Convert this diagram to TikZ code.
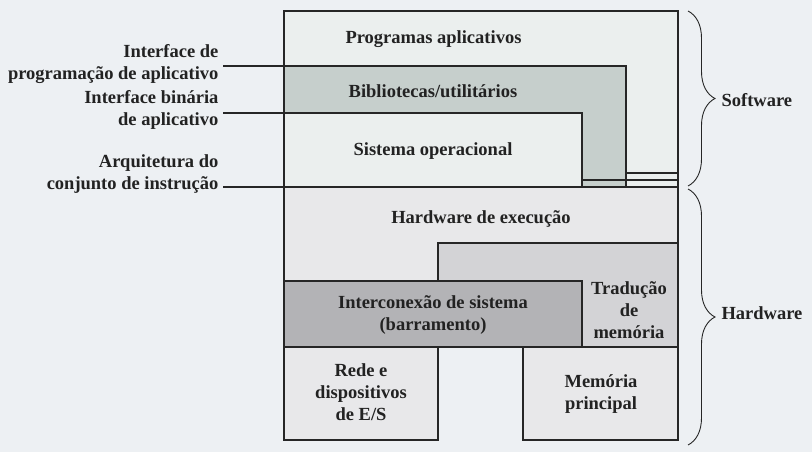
\documentclass[tikz,border=0pt]{standalone}
\usepackage{fontspec}
\setmainfont{Liberation Serif}
\usetikzlibrary{decorations.pathreplacing}
\definecolor{bgc}{HTML}{EDF0F3}
\definecolor{appc}{HTML}{EBEFEE}
\definecolor{libc}{HTML}{C6CFCC}
\definecolor{hwc}{HTML}{E8E8EA}
\definecolor{trc}{HTML}{D3D3D6}
\definecolor{icc}{HTML}{B3B3B6}
\definecolor{txt}{HTML}{222222}
\definecolor{edge}{HTML}{262626}
\begin{document}
\begin{tikzpicture}[x=1pt,y=-1pt,line width=1.2pt,
  lbl/.style={font=\fontsize{18.5}{22}\selectfont\bfseries,text=txt,align=center,inner sep=0pt},
  box/.style={draw=edge},
  iface/.style={draw=edge},
  bracestyle/.style={draw=edge,line width=0.9pt,decorate,decoration={brace,amplitude=27pt}}]
\fill[bgc] (0,0) rectangle (812,452);
\useasboundingbox (0,0) rectangle (812,452);
% software layers
\draw[box,fill=appc] (284,11) rectangle (678,187);
\fill[libc] (284,66) -- (626,66) -- (626,187) -- (582,187) -- (582,113) -- (284,113) -- cycle;
\fill[appc] (284,113) rectangle (582,187);
\draw[box] (284,11) -- (284,187);
% hardware layers
\draw[box,fill=hwc] (284,187) rectangle (678,347);
\draw[box,fill=trc] (438,243) rectangle (678,347);
\draw[box,fill=icc] (284,281) rectangle (582,347);
\draw[box,fill=hwc] (284,347) rectangle (438,440);
\draw[box,fill=hwc] (523,347) rectangle (678,440);
% labels left
\node[lbl,anchor=east,align=right] (api) at (219,64.5) {Interface de\\programação de aplicativo};
\node[lbl,anchor=east,align=right] (abi) at (219,109.5) {Interface binária\\de aplicativo};
\node[lbl,anchor=east,align=right] (isa) at (219,174) {Arquitetura do\\conjunto de instrução};
\coordinate (apiL) at (223,66);
\coordinate (abiL) at (223,113);
\coordinate (isaL) at (223,187);
\coordinate (apiC) at (626,66);
\coordinate (apiD) at (626,173);
\coordinate (apiR) at (678,173);
\coordinate (abiC) at (582,113);
\coordinate (abiD) at (582,180);
\coordinate (abiR) at (678,180);
\coordinate (isaR) at (678,187);
\draw[iface] (apiL) -- (apiC) -- (626,187);
\draw[iface] (apiD) -- (apiR);
\draw[iface] (abiL) -- (abiC) -- (582,187);
\draw[iface] (abiD) -- (abiR);
\draw[iface] (isaL) -- (isaR);
% box texts
\node[lbl] (prog) at (433.5,39) {Programas aplicativos};
\node[lbl] (bib) at (433,91) {Bibliotecas/utilitários};
\node[lbl] (so) at (433,151) {Sistema operacional};
\node[lbl] (hwx) at (481,219) {Hardware de execução};
\node[lbl] (inter) at (433,315.5) {Interconexão de sistema\\(barramento)};
\node[lbl] (trad) at (629,310) {Tradução\\de\\memória};
\node[lbl] (rede) at (361,392) {Rede e\\dispositivos\\de E/S};
\node[lbl] (mem) at (601,394.5) {Memória\\principal};
% braces
\coordinate (swT) at (688,11);
\coordinate (swB) at (688,186);
\coordinate (hwT) at (688,189);
\coordinate (hwB) at (688,445);
\draw[bracestyle] (swT) -- (swB);
\draw[bracestyle] (hwT) -- (hwB);
\node[lbl,anchor=west] (sw) at (721,100) {Software};
\node[lbl,anchor=west] (hw) at (721,313) {Hardware};
\end{tikzpicture}
\end{document}
